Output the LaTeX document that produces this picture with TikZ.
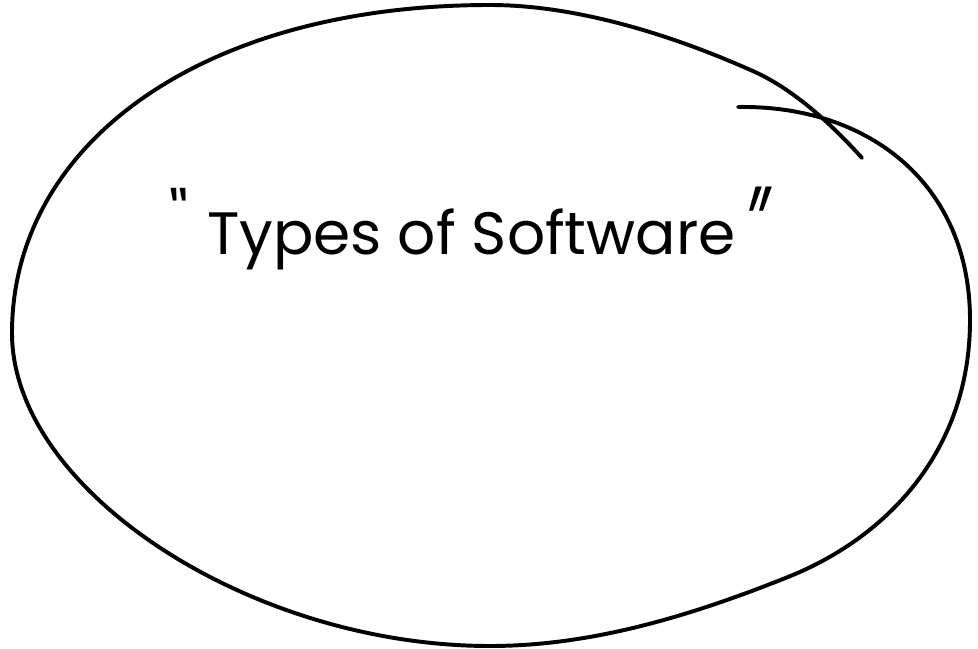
\documentclass[tikz,border=0pt]{standalone}
\usepackage{fontspec}
\setmainfont{Poppins}

\begin{document}
\begin{tikzpicture}[x=0.025cm, y=-0.025cm,
    pen/.style={line width=2.8pt, color=sk_ink, line cap=round, line join=round},
    quote/.style={inner sep=0, color=sk_ink, font=\fontsize{40}{40}\selectfont}]
% ------------------------------------------------ sketch ink
\definecolor{sk_ink}{RGB}{0,0,0}   %#000000

\useasboundingbox (0,0) rectangle (978,649);

% the loop: starts top right, goes round clockwise and runs past its own start
\draw[pen] (738,107) .. controls (870,105) and (970,185) .. (970,320)
    .. controls (970,450) and (888,537) .. (788,577)
    .. controls (688,617) and (590,646) .. (490,646)
    .. controls (250,646) and (12,490) .. (12,333)
    .. controls (12,145) and (200,5) .. (490,5)
    .. controls (590,5) and (695,45) .. (755,72)
    .. controls (790,88) and (827,119) .. (862,158);

\node[anchor=base west, inner sep=0] (title) at (207,255)
    {\resizebox{13.2cm}{!}{Types of Software}};
\node[quote, anchor=north east, xslant=-0.45] (openq) at (187,188) {"};
\node[quote, anchor=south west, xslant=0.12] (closeq) at (741,262)
    {\scalebox{1.1}[1.9]{"}};

\end{tikzpicture}
\end{document}
